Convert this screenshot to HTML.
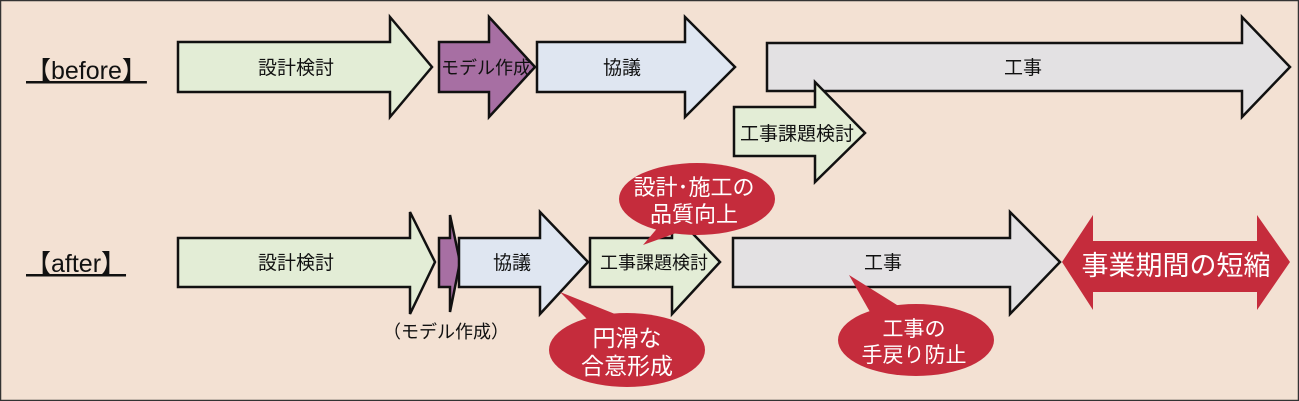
<!DOCTYPE html>
<html><head><meta charset="utf-8"><style>
html,body{margin:0;padding:0;background:#f3e1d3}
svg{display:block}
text{font-family:"Liberation Sans","Noto Sans CJK JP",sans-serif}
</style></head><body>
<svg width="1299" height="401" viewBox="0 0 1299 401" xmlns="http://www.w3.org/2000/svg">
<rect x="0.5" y="0.5" width="1298" height="400" fill="#f3e1d3" stroke="#333" stroke-width="1.5"/>
<g stroke="#111" stroke-width="2.5" stroke-linejoin="miter">
<polygon points="178,42 390,42 390,17 432,67 390,117 390,92 178,92" fill="#e3edd6"/>
<polygon points="439,42 489,42 489,17 535,67 489,117 489,92 439,92" fill="#a76fa3"/>
<polygon points="537,42 685,42 685,17 735,67 685,117 685,92 537,92" fill="#dfe6f1"/>
<polygon points="767,43 1242,43 1242,17 1290,67 1242,117 1242,91 767,91" fill="#e3e1e3"/>
<polygon points="734,107 815,107 815,82 865,133 815,182 815,156 734,156" fill="#e3edd6"/>
<polygon points="178,238 410,238 410,212 435,262 410,314 410,287 178,287" fill="#e3edd6"/>
<polygon points="439,238 450,238 450,215 460,262 450,312 450,287 439,287" fill="#a76fa3"/>
<polygon points="459,238 540,238 540,212 588,262 540,314 540,287 459,287" fill="#dfe6f1"/>
<polygon points="590,238 672,238 672,212 720,262 672,314 672,287 590,287" fill="#e3edd6"/>
<polygon points="733,238 1010,238 1010,212 1060,262 1010,314 1010,287 733,287" fill="#e3e1e3"/>
</g>
<polygon points="1062,262 1093,215 1093,241 1257,241 1257,215 1290,262 1257,310 1257,292 1093,292 1093,310" fill="#c52c3c"/>
<g fill="#c52c3c">
<ellipse cx="697" cy="199" rx="78" ry="36"/><polygon points="660,225 643,245 690,228"/>
<ellipse cx="627" cy="350" rx="78" ry="37"/><polygon points="590,322 560,292 625,318"/>
<ellipse cx="916" cy="340" rx="78" ry="36"/><polygon points="870,312 849,275 905,310"/>
</g>
<g font-size="19" fill="#111" text-anchor="middle">
<text x="296" y="74">設計検討</text>
<text x="486" y="74" font-size="18">モデル作成</text>
<text x="622" y="74">協議</text>
<text x="1023" y="74">工事</text>
<text x="797" y="140">工事課題検討</text>
<text x="296" y="269">設計検討</text>
<text x="512" y="269">協議</text>
<text x="654" y="269" font-size="18">工事課題検討</text>
<text x="883" y="269">工事</text>
<text x="446" y="338" font-size="18">（モデル作成）</text>
</g>
<g font-size="25" fill="#111" text-decoration="underline">
<text x="26" y="79">【before】</text>
<text x="26" y="272">【after】</text>
</g>
<g fill="#fff" text-anchor="middle">
<text x="1176" y="275" font-size="27">事業期間の短縮</text>
<text x="694" y="195" font-size="22">設計･施工の</text>
<text x="694" y="222" font-size="22">品質向上</text>
<text x="627" y="346" font-size="23">円滑な</text>
<text x="627" y="374" font-size="23">合意形成</text>
<text x="914" y="336" font-size="21">工事の</text>
<text x="914" y="362" font-size="21">手戻り防止</text>
</g>
</svg>
</body></html>
